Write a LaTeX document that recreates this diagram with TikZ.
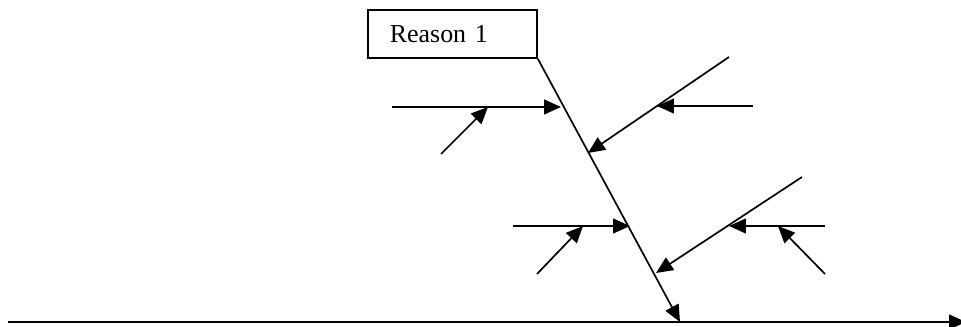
\documentclass[tikz,border=0pt]{standalone}
\usepackage{fontspec}
\setmainfont{Liberation Serif}
\usetikzlibrary{arrows.meta}
\begin{document}
\begin{tikzpicture}[x=0.025cm, y=-0.025cm, >={Triangle[length=12pt,width=10.5pt]}, line width=1.2pt]
	\tikzset{reasonbox/.style={draw, minimum height=1.2cm, text width=3.125cm,
		inner xsep=0.55cm, align=left, font=\fontsize{18.4}{22}\selectfont}}
	\useasboundingbox (0,0) rectangle (961,327);
	\node[reasonbox] (reason) at (452.5,34) {Reason 1};
	% spine and main line
	\coordinate (spine) at (680,322);
	\coordinate (mainA) at (8,322);
	\coordinate (mainB) at (966,322);
	\draw[->] (mainA) -- (mainB);
	\draw[->] (reason.south east) -- (spine);
	% upper left
	\coordinate (ulA) at (392,107);  \coordinate (ulB) at (561,107);
	\coordinate (ulC) at (441,154);  \coordinate (ulD) at (488,107);
	\draw[->] (ulA) -- (ulB);
	\draw[->] (ulC) -- (ulD);
	% upper right
	\coordinate (urA) at (729,57);   \coordinate (urB) at (588,153);
	\coordinate (urC) at (753,106);  \coordinate (urD) at (657,106);
	\draw[->] (urA) -- (urB);
	\draw[->] (urC) -- (urD);
	% lower left
	\coordinate (llA) at (513,226);  \coordinate (llB) at (630,226);
	\coordinate (llC) at (537,274);  \coordinate (llD) at (583,226);
	\draw[->] (llA) -- (llB);
	\draw[->] (llC) -- (llD);
	% lower right
	\coordinate (lrA) at (802,177);  \coordinate (lrB) at (656,273);
	\coordinate (lrC) at (825,226);  \coordinate (lrD) at (729,226);
	\coordinate (lrE) at (825,274);  \coordinate (lrF) at (778,226);
	\draw[->] (lrA) -- (lrB);
	\draw[->] (lrC) -- (lrD);
	\draw[->] (lrE) -- (lrF);
\end{tikzpicture}
\end{document}
